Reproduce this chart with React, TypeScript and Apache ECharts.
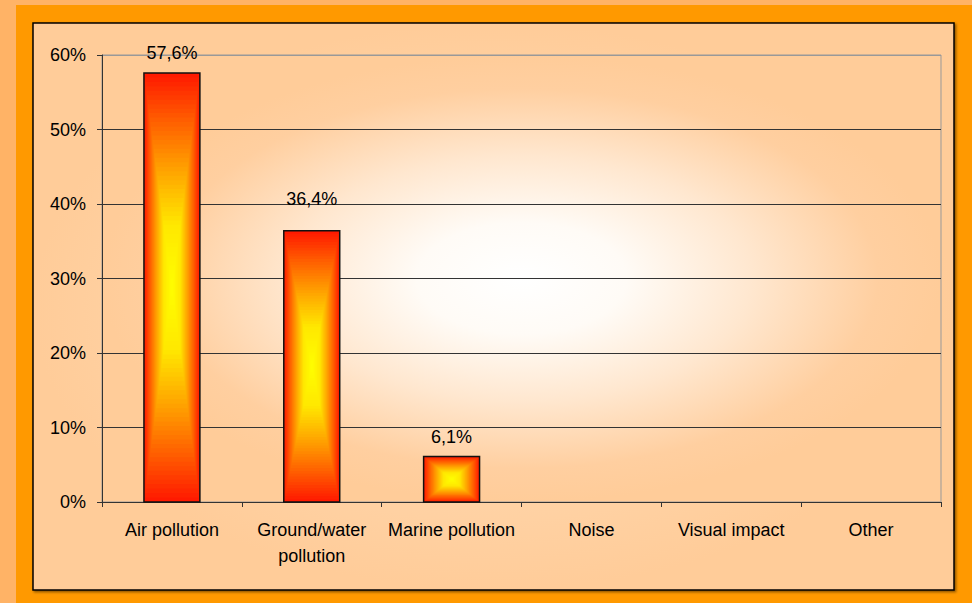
import React, { useEffect, useRef } from 'react';
import * as echarts from 'echarts';

const categories = ['Air pollution', 'Ground/water\npollution', 'Marine pollution', 'Noise', 'Visual impact', 'Other'];
const shares = [57.6, 36.4, 6.1, 0, 0, 0];
const yMin = 0;
const yMax = 60;
const yStep = 10;

const FONT = '"Liberation Sans", Arial, sans-serif';
const FS = 18;

// rectangular "from centre" gradient stops for the bars (t = 0 centre, 1 edge)
const barStops: [number, string][] = [
  [0, '#FFFF00'],
  [0.3, '#FFE800'],
  [0.55, '#FFA500'],
  [0.8, '#FF5A00'],
  [1, '#FF1A00'],
];

function hexToRgb(h: string) {
  const n = parseInt(h.slice(1), 16);
  return [(n >> 16) & 255, (n >> 8) & 255, n & 255];
}
function colorAt(t: number) {
  for (let i = 1; i < barStops.length; i++) {
    const [t1, c1] = barStops[i];
    const [t0, c0] = barStops[i - 1];
    if (t <= t1) {
      const f = (t - t0) / (t1 - t0 || 1);
      const a = hexToRgb(c0);
      const b = hexToRgb(c1);
      const m = a.map((v, k) => Math.round(v + (b[k] - v) * f));
      return `rgb(${m[0]},${m[1]},${m[2]})`;
    }
  }
  return barStops[barStops.length - 1][1];
}

export default function App() {
  const ref = useRef<HTMLDivElement>(null);
  useEffect(() => {
    document.body.style.margin = '0';
    const chart = echarts.init(ref.current!, null, { renderer: 'svg' });
    const splitColors = ['#333', '#333', '#333', '#333', '#333', '#333', '#999'];
    chart.setOption({
      animation: false,
      backgroundColor: '#FFB366',
      graphic: [
        {
          type: 'rect',
          z: -100,
          shape: { x: 16, y: 5, width: 956, height: 598 },
          style: { fill: '#FF9900' },
          silent: true,
        },
        {
          type: 'rect',
          z: -90,
          shape: { x: 33, y: 23, width: 921, height: 567 },
          style: {
            fill: new echarts.graphic.RadialGradient(0.5, 0.5, 0.5, [
              { offset: 0, color: '#FFE2C6' },
              { offset: 0.6, color: '#FFD4A8' },
              { offset: 1, color: '#FFCC99' },
            ]),
            stroke: '#000',
            lineWidth: 1.5,
            shadowColor: 'rgba(0,0,0,0.45)',
            shadowBlur: 2,
            shadowOffsetX: 1.5,
            shadowOffsetY: 1.5,
          },
          silent: true,
        },
      ],
      grid: {
        left: 102,
        right: 31,
        top: 55,
        bottom: 101,
        show: true,
        borderColor: '#999',
        borderWidth: 1,
        backgroundColor: new echarts.graphic.RadialGradient(0.5, 0.5, 0.5, [
          { offset: 0, color: '#FFFFFF' },
          { offset: 0.25, color: '#FFFBF6' },
          { offset: 0.55, color: '#FFE7CF' },
          { offset: 0.85, color: '#FFCFA0' },
          { offset: 1, color: '#FFCC99' },
        ]),
      },
      xAxis: {
        type: 'category',
        data: categories,
        boundaryGap: true,
        axisLine: { show: true, lineStyle: { color: '#333', width: 1 } },
        axisTick: { show: true, length: 5, alignWithLabel: false, interval: 0, lineStyle: { color: '#333' } },
        axisLabel: {
          interval: 0,
          margin: 15,
          color: '#000',
          fontFamily: FONT,
          fontSize: FS,
          lineHeight: 26,
        },
        splitLine: { show: false },
      },
      yAxis: {
        type: 'value',
        min: yMin,
        max: yMax,
        interval: yStep,
        axisLine: { show: true, lineStyle: { color: '#333', width: 1 } },
        axisTick: { show: true, length: 5, lineStyle: { color: '#333' } },
        axisLabel: {
          formatter: '{value}%',
          margin: 16,
          color: '#000',
          fontFamily: FONT,
          fontSize: FS,
        },
        splitLine: { show: true, lineStyle: { color: splitColors, width: 1 } },
      },
      series: [
        {
          type: 'custom',
          silent: true,
          z: 3,
          encode: { x: 0, y: 1 },
          data: shares.map((v, i) => [i, v]),
          renderItem: (_params: any, api: any) => {
            const idx = api.value(0);
            const v = api.value(1);
            if (!v) return { type: 'group', children: [] };
            const p0 = api.coord([idx, 0]);
            const p1 = api.coord([idx, v]);
            const band = api.size([1, 0])[0];
            const w = band * 0.4;
            const h = p0[1] - p1[1];
            const cx = p0[0];
            const cy = (p0[1] + p1[1]) / 2;
            const N = 48;
            const children: any[] = [];
            for (let i = 0; i < N; i++) {
              const t = 1 - i / N;
              children.push({
                type: 'rect',
                shape: { x: cx - (t * w) / 2, y: cy - (t * h) / 2, width: t * w, height: t * h },
                style: { fill: colorAt(t) },
              });
            }
            children.push({
              type: 'rect',
              shape: { x: cx - w / 2, y: p1[1], width: w, height: h },
              style: { fill: 'none', stroke: '#111', lineWidth: 1.5 },
            });
            return { type: 'group', children };
          },
        },
        {
          type: 'bar',
          silent: true,
          z: 4,
          barWidth: '40%',
          itemStyle: { color: 'rgba(0,0,0,0)' },
          label: {
            show: true,
            position: 'top',
            distance: 11,
            color: '#000',
            fontFamily: FONT,
            fontSize: FS,
            formatter: (p: any) => p.value.toFixed(1).replace('.', ',') + '%',
          },
          data: shares.map((v, i) => ({
            value: v,
            label: { show: v > 0, offset: [0, i === 1 ? -12 : 0] },
          })),
        },
      ],
    });
    return () => chart.dispose();
  }, []);
  return <div ref={ref} style={{ position: 'fixed', left: 0, top: 0, width: 972, height: 603 }} />;
}
